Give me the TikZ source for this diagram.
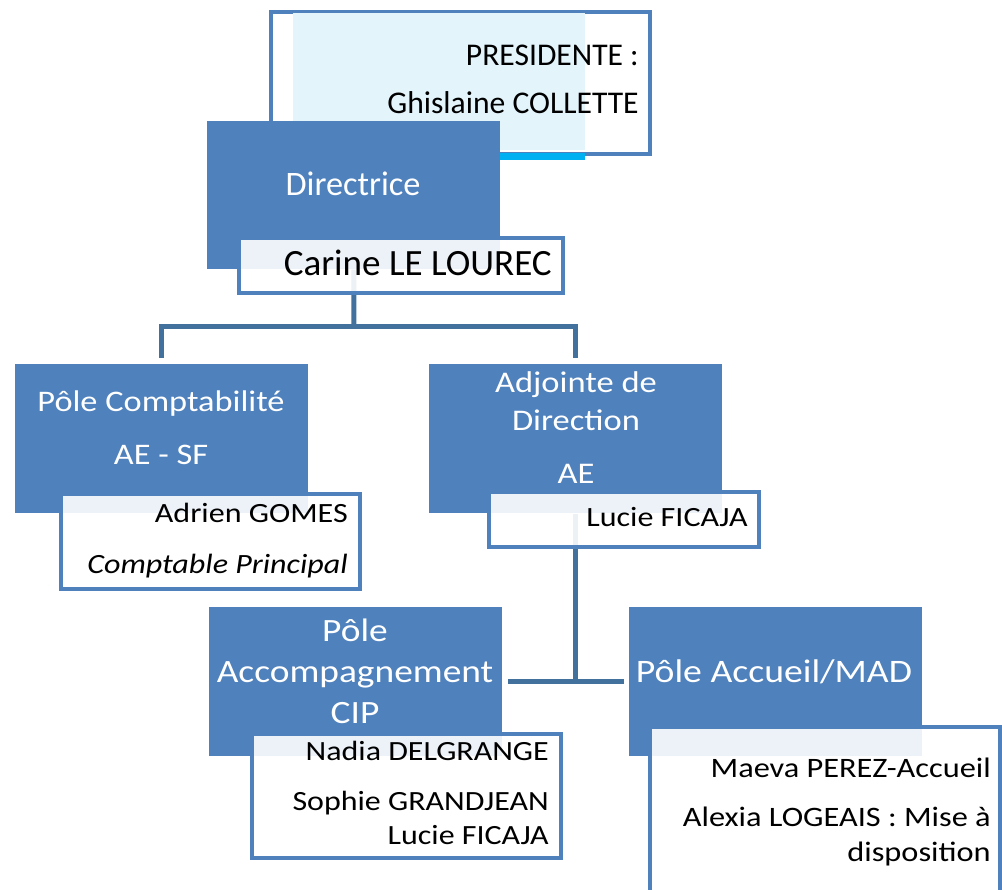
\documentclass[tikz,border=0pt]{standalone}
\usepackage{fontspec}
\setmainfont{Carlito}
\newfontfamily\widefont[FakeStretch=1.15]{Carlito}
\usetikzlibrary{positioning}
\definecolor{boxblue}{RGB}{79,129,189}
\definecolor{linkblue}{RGB}{65,113,156}
\definecolor{paleblue}{RGB}{227,244,251}
\definecolor{skyblue}{RGB}{0,176,240}
\tikzset{
  pole/.style={fill=boxblue, draw=none, anchor=north west, inner sep=0pt,
    minimum width=219.75pt, minimum height=111.75pt},
  namebox/.style={fill=white, fill opacity=0.9, draw=boxblue, line width=3pt,
    anchor=north west, inner sep=0pt},
  link/.style={draw=linkblue, line width=3.75pt},
  wtext/.style={text=white, align=center, anchor=base, inner sep=0pt},
  ktext/.style={text=black, align=right, anchor=base east, inner sep=0pt},
}

\begin{document}
\begin{tikzpicture}[x=0.75pt, y=-0.75pt]
\useasboundingbox (0,0) rectangle (1002,889);

\node[namebox, fill opacity=1, minimum width=284.25pt, minimum height=106.5pt] (pres) at (269,10) {};
\fill[paleblue] (293,13) rectangle (585,150);
\draw[skyblue, line width=5.25pt] (293,156.5) -- (585,156.5);

\node[pole, minimum height=111pt] (dir) at (207,121) {};
\node[pole] (compta) at (15,364) {};
\node[pole] (adj) at (429,364) {};
\node[pole] (accomp) at (209,607) {};
\node[pole] (accueil) at (629,607) {};

\coordinate (j1) at (354,326);
\draw[link] (dir.south) -- (j1);
\draw[link, shorten >=4.5pt] (j1) -| (compta.north);
\draw[link, shorten >=4.5pt] (j1) -| (adj.north);
\draw[link] (adj.south) -- (adj.south |- accomp.east);
\draw[link, shorten <=4pt, shorten >=4pt] (accomp.east) -- (accueil.west);

\node[namebox, minimum width=243pt, minimum height=41.25pt] (carine) at (237,236) {};
\node[namebox, minimum width=224.25pt, minimum height=71.25pt] (adrien) at (59,492) {};
\node[namebox, minimum width=202.5pt, minimum height=41.25pt] (lucie) at (487,490) {};
\node[namebox, minimum width=231.75pt, minimum height=93pt] (nadia) at (250,732) {};
\node[namebox, minimum width=262.5pt, minimum height=153.75pt] (maeva) at (648,725) {};

\node[ktext, font=\fontsize{23.7}{36}\selectfont] (prestxt) at (639,113)
  {PRESIDENTE :\\Ghislaine COLLETTE};
\node[wtext, font=\fontsize{25.7}{30}\selectfont] (dirtxt) at (353,195) {Directrice};
\node[ktext, font=\fontsize{27.8}{32}\selectfont] (carinetxt) at (552,275) {Carine LE LOUREC};
\node[wtext, font=\widefont\fontsize{22.4}{39.75}\selectfont] (comptatxt) at (161,464)
  {Pôle Comptabilité\\AE - SF};
\node[wtext, font=\widefont\fontsize{22.5}{28.5}\selectfont] (adjtxt) at (576,483)
  {Adjointe de\\Direction\\[11.25pt]AE};
\node[ktext, font=\widefont\fontsize{20.9}{38.25}\selectfont] (adrientxt) at (348,573)
  {Adrien GOMES\\\textit{Comptable Principal}};
\node[ktext, font=\widefont\fontsize{20.9}{24}\selectfont] (lucietxt) at (748,526) {Lucie FICAJA};
\node[wtext, font=\widefont\fontsize{24.4}{30.4}\selectfont] (accomptxt) at (355,723)
  {Pôle\\Accompagnement\\CIP};
\node[wtext, font=\widefont\fontsize{24.6}{30}\selectfont] (accueiltxt) at (774,682) {Pôle Accueil/MAD};
\node[ktext, font=\widefont\fontsize{20.85}{25.5}\selectfont] (nadiatxt) at (549,844)
  {Nadia DELGRANGE\\[12pt]Sophie GRANDJEAN\\Lucie FICAJA};
\node[ktext, font=\widefont\fontsize{21.1}{26.25}\selectfont] (maevatxt) at (991,861)
  {Maeva PEREZ-Accueil\\[10.5pt]Alexia LOGEAIS : Mise à\\disposition};
\end{tikzpicture}
\end{document}
